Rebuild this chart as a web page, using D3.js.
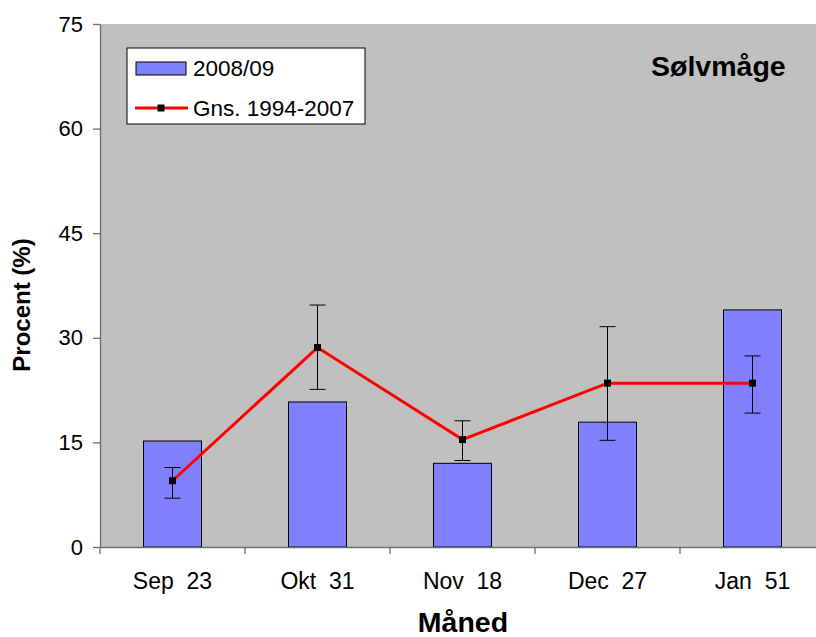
<!DOCTYPE html>
<html>
<head>
<meta charset="utf-8">
<script src="https://cdn.jsdelivr.net/npm/d3@7"></script>
<style>
  body { margin: 0; background: #fff; }
  svg { display: block; font-family: "Liberation Sans", Arial, sans-serif; }
</style>
</head>
<body>
<div id="graphic"></div>
<script>
(function() {
  var W = 816, H = 637;
  var margin = { top: 24, left: 100, right: -9, bottom: 90 },
    width = W - margin.left - margin.right,
    height = H - margin.top - margin.bottom;

  /*** DATA ***/
  var months = ["Sep  23", "Okt  31", "Nov  18", "Dec  27", "Jan  51"];
  var season = [15.2, 20.8, 12.0, 17.9, 34.0];           // 2008/09
  var average = [9.5, 28.6, 15.4, 23.5, 23.5];           // Gns. 1994-2007
  var errLow = [7.0, 22.6, 12.4, 15.3, 19.2];
  var errHigh = [11.4, 34.7, 18.1, 31.6, 27.4];
  var yTicks = [0, 15, 30, 45, 60, 75];

  var barColor = "#8080ff";
  var lineColor = "#ff0000";
  var plotBg = "#c0c0c0";
  var axisColor = "#6e6e6e";

  var svg = d3.select("#graphic")
    .append("svg")
    .attr("width", W)
    .attr("height", H);

  var g = svg.append("g")
    .attr("transform", "translate(" + margin.left + "," + margin.top + ")");

  /*** SCALES ***/
  var x = d3.scaleBand().domain(months).range([0, width]).paddingInner(0).paddingOuter(0);
  var y = d3.scaleLinear().domain([0, 75]).range([height, 0]);
  var barW = x.bandwidth() * 0.4;
  var cx = function(i) { return x(months[i]) + x.bandwidth() / 2; };

  /*** PLOT BACKGROUND ***/
  g.append("rect")
    .attr("x", 0).attr("y", 0)
    .attr("width", width).attr("height", height)
    .attr("fill", plotBg);

  /*** BARS ***/
  g.selectAll(".bar")
    .data(season).enter().append("rect")
    .attr("class", "bar")
    .attr("x", function(d, i) { return cx(i) - barW / 2; })
    .attr("y", function(d) { return y(d); })
    .attr("width", barW)
    .attr("height", function(d) { return y(0) - y(d); })
    .attr("fill", barColor)
    .attr("stroke", "#000")
    .attr("stroke-width", 1);

  /*** AXES ***/
  var yAxis = g.append("g")
    .call(d3.axisLeft(y).tickValues(yTicks).tickSize(7).tickPadding(10).tickSizeOuter(0));
  yAxis.select(".domain").attr("stroke", axisColor).attr("stroke-width", 1.3);
  yAxis.selectAll(".tick line").attr("stroke", axisColor).attr("stroke-width", 1.3);
  yAxis.selectAll("text").attr("font-size", 22).attr("fill", "#000")
    .style("font-family", "'Liberation Sans', Arial, sans-serif");

  var xAxis = g.append("g")
    .attr("transform", "translate(0," + height + ")")
    .call(d3.axisBottom(x).tickSize(0).tickPadding(26));
  xAxis.select(".domain").attr("stroke", axisColor).attr("stroke-width", 1.3);
  xAxis.selectAll("text").attr("font-size", 23).attr("fill", "#000")
    .style("white-space", "pre")
    .style("font-family", "'Liberation Sans', Arial, sans-serif");

  // tick marks between categories
  g.selectAll(".xtick")
    .data(months).enter().append("line")
    .attr("class", "xtick")
    .attr("x1", function(d) { return x(d); })
    .attr("x2", function(d) { return x(d); })
    .attr("y1", height)
    .attr("y2", height + 7)
    .attr("stroke", axisColor)
    .attr("stroke-width", 1.3);

  /*** ERROR BARS ***/
  var cap = 8;
  var eb = g.selectAll(".err").data(average).enter().append("g").attr("class", "err");
  eb.append("line")
    .attr("x1", function(d, i) { return cx(i); })
    .attr("x2", function(d, i) { return cx(i); })
    .attr("y1", function(d, i) { return y(errHigh[i]); })
    .attr("y2", function(d, i) { return y(errLow[i]); })
    .attr("stroke", "#000").attr("stroke-width", 1);
  eb.append("line")
    .attr("x1", function(d, i) { return cx(i) - cap; })
    .attr("x2", function(d, i) { return cx(i) + cap; })
    .attr("y1", function(d, i) { return y(errHigh[i]); })
    .attr("y2", function(d, i) { return y(errHigh[i]); })
    .attr("stroke", "#000").attr("stroke-width", 1);
  eb.append("line")
    .attr("x1", function(d, i) { return cx(i) - cap; })
    .attr("x2", function(d, i) { return cx(i) + cap; })
    .attr("y1", function(d, i) { return y(errLow[i]); })
    .attr("y2", function(d, i) { return y(errLow[i]); })
    .attr("stroke", "#000").attr("stroke-width", 1);

  /*** AVERAGE LINE ***/
  var line = d3.line()
    .x(function(d, i) { return cx(i); })
    .y(function(d) { return y(d); });

  g.append("path")
    .attr("d", line(average))
    .attr("fill", "none")
    .attr("stroke", lineColor)
    .attr("stroke-width", 3);

  g.selectAll(".marker")
    .data(average).enter().append("rect")
    .attr("class", "marker")
    .attr("x", function(d, i) { return cx(i) - 3.5; })
    .attr("y", function(d) { return y(d) - 3.5; })
    .attr("width", 7).attr("height", 7)
    .attr("fill", "#000");

  /*** LEGEND ***/
  var leg = svg.append("g").attr("transform", "translate(127,48)");
  leg.append("rect")
    .attr("x", 0).attr("y", 0)
    .attr("width", 238).attr("height", 76)
    .attr("fill", "#fff")
    .attr("stroke", "#000")
    .attr("stroke-width", 1);
  leg.append("rect")
    .attr("x", 9).attr("y", 14)
    .attr("width", 50).attr("height", 13)
    .attr("fill", barColor)
    .attr("stroke", "#000").attr("stroke-width", 1);
  leg.append("text")
    .attr("x", 66).attr("y", 28)
    .attr("font-size", 22.5)
    .text("2008/09");
  leg.append("line")
    .attr("x1", 8).attr("x2", 61)
    .attr("y1", 60).attr("y2", 60)
    .attr("stroke", lineColor).attr("stroke-width", 3);
  leg.append("rect")
    .attr("x", 30.5).attr("y", 56.5)
    .attr("width", 7).attr("height", 7)
    .attr("fill", "#000");
  leg.append("text")
    .attr("x", 66).attr("y", 68)
    .attr("font-size", 22.5)
    .text("Gns. 1994-2007");

  /*** TITLES ***/
  svg.append("text")
    .attr("x", 651).attr("y", 76)
    .attr("font-size", 28.5)
    .attr("font-weight", "bold")
    .text("Sølvmåge");

  svg.append("text")
    .attr("x", 463).attr("y", 632)
    .attr("text-anchor", "middle")
    .attr("font-size", 28.5)
    .attr("font-weight", "bold")
    .text("Måned");

  svg.append("text")
    .attr("transform", "translate(30,305) rotate(-90)")
    .attr("text-anchor", "middle")
    .attr("font-size", 24)
    .attr("font-weight", "bold")
    .text("Procent (%)");
})();
</script>
</body>
</html>
